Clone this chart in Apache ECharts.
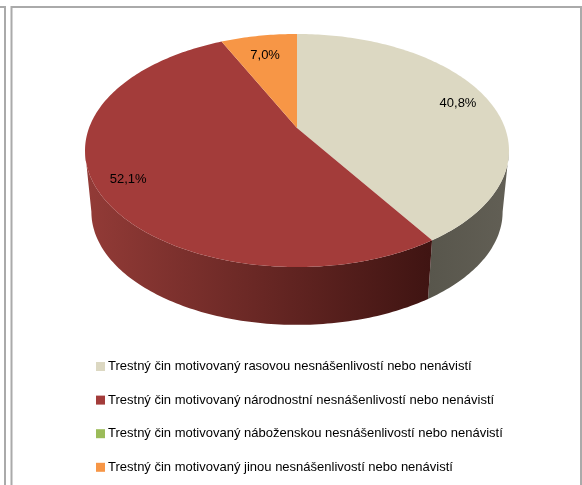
<!DOCTYPE html>
<html>
<head>
<meta charset="utf-8">
<script src="https://cdn.jsdelivr.net/npm/echarts@6/dist/echarts.min.js"></script>
<style>
  html, body { margin: 0; padding: 0; background: #fff; }
  #chart { width: 582px; height: 485px; filter: blur(0.6px); }
</style>
</head>
<body>
<div id="chart"></div>
<script>
const categories = [
  'Trestný čin motivovaný rasovou nesnášenlivostí nebo nenávistí',
  'Trestný čin motivovaný národnostní nesnášenlivostí nebo nenávistí',
  'Trestný čin motivovaný náboženskou nesnášenlivostí nebo nenávistí',
  'Trestný čin motivovaný jinou nesnášenlivostí nebo nenávistí',
]
const shares = [40.8, 52.1, 0, 7.0]
const colors = ['#dcd8c2', '#a33c3a', '#9bbb59', '#f79646']
const wallFrom = ['#58564c', '#933b37', '#6f8a40', '#b86d30']
const wallTo = ['#625f55', '#3f1412', '#56702c', '#8a5020']

// pie geometry, tilted disc seen in perspective
const cx = 297
const topY = 128
const bottomY = 190
const rx = 208
const ry = 112.2
const persp = 0.193
const bottomScale = 0.97
const labelRadius = [0.85, 0.85, 0.85, 0.78]
// where the rim turns away from the viewer
const silhouette = (Math.acos(-persp) * 180) / Math.PI

const total = shares.reduce((a, b) => a + b, 0)

function project(deg, r, base, scale) {
  const a = (deg * Math.PI) / 180
  const u = r * Math.sin(a)
  const v = -r * Math.cos(a)
  const d = 1 - persp * v
  return [cx + (scale * rx * u) / d, base + (scale * ry * v) / d]
}

function arc(from, to, base, scale) {
  const pts = []
  const n = Math.max(2, Math.ceil(to - from))
  for (let i = 0; i <= n; i++) {
    pts.push(project(from + ((to - from) * i) / n, 1, base, scale))
  }
  return pts
}

function renderSlice(idx, api) {
  const value = api.value(0)
  if (!value) return { type: 'group', children: [] }
  const before = shares.slice(0, idx).reduce((a, b) => a + b, 0)
  const start = (before / total) * 360
  const end = ((before + value) / total) * 360
  const children = []

  // visible side wall
  const wStart = Math.max(start, silhouette)
  const wEnd = Math.min(end, 360 - silhouette)
  if (wEnd > wStart) {
    children.push({
      type: 'polygon',
      shape: {
        points: arc(wStart, wEnd, topY, 1).concat(arc(wStart, wEnd, bottomY, bottomScale).reverse()),
      },
      style: {
        fill: new echarts.graphic.LinearGradient(0, 0, 1, 0, [
          { offset: 0, color: wallFrom[idx] },
          { offset: 1, color: wallTo[idx] },
        ]),
      },
    })
  }

  children.push({
    type: 'polygon',
    shape: { points: [[cx, topY]].concat(arc(start, end, topY, 1)) },
    style: { fill: colors[idx] },
  })

  const mid = project((start + end) / 2, labelRadius[idx], topY, 1)
  children.push({
    type: 'text',
    x: mid[0] - 1,
    y: mid[1] + 1.5,
    style: {
      text: value.toFixed(1).replace('.', ',') + '%',
      fill: '#000',
      font: '13px "Liberation Sans", sans-serif',
      align: 'center',
      verticalAlign: 'middle',
    },
  })
  return { type: 'group', children }
}

const frameLine = { stroke: '#aaa', lineWidth: 2 }

const chart = echarts.init(document.getElementById('chart'))
chart.setOption({
  animation: false,
  backgroundColor: '#fff',
  legend: {
    data: categories,
    orient: 'vertical',
    left: 91,
    top: 355,
    icon: 'rect',
    itemWidth: 9,
    itemHeight: 9,
    itemGap: 20.6,
    textStyle: {
      color: '#000',
      fontSize: 13,
      fontFamily: '"Liberation Sans", sans-serif',
      padding: [0, 0, 0, -2],
    },
  },
  graphic: [
    { type: 'line', shape: { x1: 0, y1: 7, x2: 5, y2: 7 }, style: frameLine },
    { type: 'line', shape: { x1: 5, y1: 6, x2: 5, y2: 485 }, style: frameLine },
    { type: 'line', shape: { x1: 11, y1: 7, x2: 582, y2: 7 }, style: frameLine },
    { type: 'line', shape: { x1: 11.5, y1: 6, x2: 11.5, y2: 485 }, style: frameLine },
    { type: 'line', shape: { x1: 581, y1: 7, x2: 581, y2: 485 }, style: frameLine },
  ],
  series: categories.map((name, i) => ({
    type: 'custom',
    name,
    coordinateSystem: 'none',
    itemStyle: { color: colors[i] },
    data: [[shares[i]]],
    renderItem: (params, api) => renderSlice(i, api),
    silent: true,
  })),
})
window.addEventListener('resize', () => chart.resize())
</script>
</body>
</html>
